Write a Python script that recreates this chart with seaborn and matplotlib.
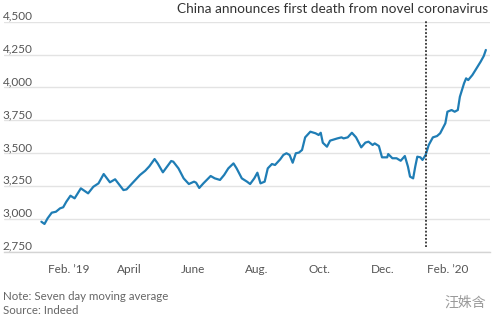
import matplotlib
matplotlib.use("Agg")
import matplotlib.pyplot as plt
import matplotlib.dates as mdates
import matplotlib.transforms as mtransforms
import seaborn as sns
import pandas as pd

dates = [
    "2019-01-06", "2019-01-09", "2019-01-12", "2019-01-16", "2019-01-20", "2019-01-24",
    "2019-01-27", "2019-01-30", "2019-02-03", "2019-02-07", "2019-02-13", "2019-02-20",
    "2019-02-25", "2019-03-02", "2019-03-07", "2019-03-13", "2019-03-18", "2019-03-26",
    "2019-03-29", "2019-04-04", "2019-04-11", "2019-04-16", "2019-04-20", "2019-04-25",
    "2019-04-28", "2019-05-03", "2019-05-07", "2019-05-11", "2019-05-13", "2019-05-18",
    "2019-05-23", "2019-05-28", "2019-06-02", "2019-06-04", "2019-06-07", "2019-06-11",
    "2019-06-18", "2019-06-22", "2019-06-27", "2019-07-01", "2019-07-05", "2019-07-10",
    "2019-07-13", "2019-07-18", "2019-07-23", "2019-07-26", "2019-07-30", "2019-08-02",
    "2019-08-05", "2019-08-09", "2019-08-12", "2019-08-16", "2019-08-19", "2019-08-24",
    "2019-08-27", "2019-08-30", "2019-09-02", "2019-09-05", "2019-09-08", "2019-09-11",
    "2019-09-14", "2019-09-17", "2019-09-22", "2019-09-27", "2019-09-30", "2019-10-02",
    "2019-10-04", "2019-10-08", "2019-10-11", "2019-10-18", "2019-10-22", "2019-10-24",
    "2019-10-28", "2019-11-01", "2019-11-05", "2019-11-10", "2019-11-14", "2019-11-17",
    "2019-11-21", "2019-11-23", "2019-11-27", "2019-11-30", "2019-12-05", "2019-12-06",
    "2019-12-10", "2019-12-14", "2019-12-18", "2019-12-22", "2019-12-25", "2019-12-27",
    "2019-12-30", "2020-01-01", "2020-01-03", "2020-01-06", "2020-01-08", "2020-01-11",
    "2020-01-14", "2020-01-18", "2020-01-22", "2020-01-25", "2020-01-30", "2020-02-01",
    "2020-02-05", "2020-02-08", "2020-02-11", "2020-02-13", "2020-02-17", "2020-02-19",
    "2020-02-21", "2020-02-25", "2020-02-28", "2020-03-04", "2020-03-07", "2020-03-09",
]
postings = [
    2978, 2961, 3004, 3047, 3054, 3080,
    3088, 3130, 3176, 3156, 3232, 3194,
    3244, 3270, 3341, 3278, 3301, 3219,
    3224, 3275, 3334, 3366, 3400, 3455,
    3422, 3354, 3397, 3440, 3435, 3384,
    3308, 3265, 3283, 3275, 3235, 3270,
    3326, 3308, 3296, 3334, 3384, 3422,
    3384, 3308, 3283, 3265, 3308, 3351,
    3270, 3283, 3384, 3417, 3410, 3453,
    3486, 3499, 3486, 3427, 3499, 3504,
    3524, 3620, 3663, 3651, 3638, 3655,
    3579, 3549, 3595, 3612, 3620, 3612,
    3620, 3655, 3620, 3544, 3580, 3587,
    3562, 3574, 3554, 3468, 3468, 3493,
    3461, 3461, 3442, 3478, 3397, 3321,
    3308, 3397, 3473, 3468, 3448, 3486,
    3562, 3620, 3630, 3651, 3727, 3815,
    3828, 3815, 3828, 3929, 4031, 4069,
    4056, 4094, 4132, 4196, 4239, 4285,
]

y_ticks = [2750, 3000, 3250, 3500, 3750, 4000, 4250, 4500]
y_tick_labels = ["2,750", "3,000", "3,250", "3,500", "3,750", "4,000", "4,250", "4,500"]
x_major = ["2019-02-01", "2019-04-01", "2019-06-01", "2019-08-01", "2019-10-01", "2019-12-01", "2020-02-01"]
x_major_labels = ["Feb. \u201919", "April", "June", "Aug.", "Oct.", "Dec.", "Feb. \u201920"]
x_minor = ["2019-03-01", "2019-05-01", "2019-07-01", "2019-09-01", "2019-11-01", "2020-01-01", "2020-03-01"]
event_date = "2020-01-11"
event_label = "China announces first death from novel coronavirus"
note_text = "Note: Seven day moving average"
source_text = "Source: Indeed"
watermark = "\u6c6a\u59dd\u542b"

sns.set_theme(style="white")
plt.rcParams["font.family"] = ["Lato", "DejaVu Sans"]

df = pd.DataFrame({"date": pd.to_datetime(dates), "postings": postings})

fig = plt.figure(figsize=(5.0, 3.23), dpi=100)
ax = fig.add_axes([4 / 500, 1 - 251.7 / 323, (490 - 4) / 500, (251.7 - 21.7) / 323])

sns.lineplot(data=df, x="date", y="postings", ax=ax, color="#1f7db5", linewidth=1.6)

ax.set_xlim(pd.Timestamp("2018-12-01"), pd.Timestamp("2020-03-13"))
ax.set_ylim(2750, 4500)

for s in ["top", "right", "left"]:
    ax.spines[s].set_visible(False)
ax.spines["bottom"].set_color("#d4d4d4")
ax.spines["bottom"].set_linewidth(1.0)

ax.set_yticks(y_ticks)
ax.set_yticklabels(y_tick_labels)
ax.yaxis.grid(True, color="#e3e3e3", linewidth=1.0)
ax.set_axisbelow(True)
ax.tick_params(axis="y", length=0, pad=1, labelsize=8.5, labelcolor="#555555")
offset = mtransforms.ScaledTranslation(0, 1.5 / 72, fig.dpi_scale_trans)
for lab in ax.get_yticklabels():
    lab.set_horizontalalignment("left")
    lab.set_verticalalignment("baseline")
    lab.set_transform(lab.get_transform() + offset)

ax.set_xticks(pd.to_datetime(x_major))
ax.set_xticklabels(x_major_labels)
ax.set_xticks(pd.to_datetime(x_minor), minor=True)
ax.tick_params(axis="x", which="both", length=4, width=1, color="#888888",
               direction="out", labelsize=8.5, labelcolor="#555555", pad=5)
ax.tick_params(axis="x", which="minor", length=3)
ax.set_xlabel("")
ax.set_ylabel("")

ev = pd.Timestamp(event_date)
ax.plot([ev, ev], [2785, 4510], color="#333333", linewidth=1.3,
        linestyle=(0, (1, 1.0)), clip_on=False)
ax.text(1.0 - 2 / 486, 1.0 + 12.5 / 230, event_label, transform=ax.transAxes,
        ha="right", va="center", fontsize=9.8, color="#333333")

fig.text(3 / 500, 1 - 296 / 323, note_text, ha="left", va="center", fontsize=8.3, color="#666666")
fig.text(3 / 500, 1 - 311 / 323, source_text, ha="left", va="center", fontsize=8.3, color="#666666")
fig.text(486 / 500, 1 - 303 / 323, watermark, ha="right", va="center", fontsize=10,
         color="#9a9a9a", family=["Noto Sans CJK SC", "DejaVu Sans"])

fig.savefig("out.png", dpi=100)
